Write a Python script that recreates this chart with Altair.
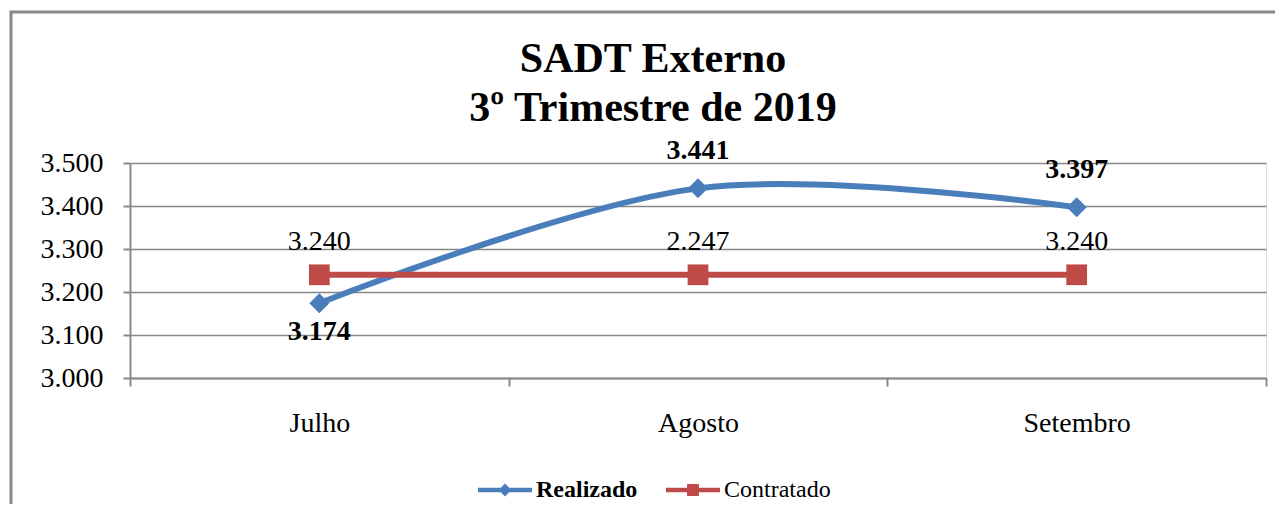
import altair as alt
import pandas as pd

meses = ["Julho", "Agosto", "Setembro"]
realizado = [3174, 3441, 3397]
contratado = [3240, 3240, 3240]
rotulos_realizado = ["3.174", "3.441", "3.397"]
rotulos_contratado = ["3.240", "2.247", "3.240"]
series = ["Realizado", "Contratado"]
cores = ["#4A7EBB", "#BE4B48"]
y_ticks = [3000, 3100, 3200, 3300, 3400, 3500]

rows = []
for m, v, r in zip(meses, realizado, rotulos_realizado):
    rows.append({"serie": "Realizado", "mes": m, "valor": v, "rotulo": r})
for m, v, r in zip(meses, contratado, rotulos_contratado):
    rows.append({"serie": "Contratado", "mes": m, "valor": v, "rotulo": r})
df = pd.DataFrame(rows)

FONT = "Liberation Serif"
GRAY = "#888888"

x_enc = alt.X(
    "mes:N",
    sort=meses,
    scale=alt.Scale(type="band", paddingInner=0, paddingOuter=0),
    axis=alt.Axis(
        title=None, labelFont=FONT, labelFontSize=28, labelColor="black",
        labelPadding=23, tickBand="extent", tickSize=8, tickColor=GRAY,
        tickWidth=2, domainColor=GRAY, domainWidth=2, grid=False, labelAngle=0,
    ),
)
y_enc = alt.Y(
    "valor:Q",
    scale=alt.Scale(domain=[3000, 3500], nice=False, zero=False),
    axis=alt.Axis(
        title=None, values=y_ticks, labelFont=FONT, labelFontSize=28,
        labelColor="black", labelPadding=20, tickSize=7, tickColor=GRAY,
        tickWidth=2, domainColor=GRAY, domainWidth=2, gridColor=GRAY,
        gridWidth=1.5, labelExpr="replace(format(datum.value, ',.0f'), ',', '.')",
    ),
)

# legend symbols: line segment + marker (custom SVG paths, unit box -1..1)
diamond_path = "M-1,-0.08H1V0.08H-1Z M0,-0.24L0.24,0L0,0.24L-0.24,0Z"
square_path = "M-1,-0.08H1V0.08H-1Z M-0.22,-0.22H0.22V0.22H-0.22Z"

legend = alt.Legend(
    title=None, orient="none", legendX=348, legendY=300, direction="horizontal",
    labelFont=FONT, labelFontSize=24, labelColor="black", labelOffset=4,
    labelFontWeight=alt.ExprRef("datum.label == 'Realizado' ? 'bold' : 'normal'"),
    columnPadding=28, padding=0, symbolSize=2916, symbolStrokeWidth=0,
    symbolOpacity=1,
)

base = alt.Chart(df).encode(x=x_enc, y=y_enc)

border = alt.Chart(pd.DataFrame({"a": [0]})).mark_rect(
    fill="white", fillOpacity=0, stroke=GRAY, strokeWidth=3
).encode(x=alt.value(-119), x2=alt.value(1175), y=alt.value(-151), y2=alt.value(380))

# legend-only layer (no rows drawn; entries come from the explicit scale domain)
legend_layer = base.transform_filter("false").mark_point(filled=True, opacity=1).encode(
    color=alt.Color("serie:N", scale=alt.Scale(domain=series, range=cores), legend=legend),
    shape=alt.Shape("serie:N", scale=alt.Scale(domain=series, range=[diamond_path, square_path]), legend=legend),
)

line_real = base.transform_filter("datum.serie == 'Realizado'").mark_line(
    interpolate="cardinal", strokeWidth=6, color=cores[0]
)
line_cont = base.transform_filter("datum.serie == 'Contratado'").mark_line(
    strokeWidth=6, color=cores[1]
)
pts_real = base.transform_filter("datum.serie == 'Realizado'").mark_point(
    filled=True, size=400, opacity=1, shape="diamond", color=cores[0]
)
pts_cont = base.transform_filter("datum.serie == 'Contratado'").mark_point(
    filled=True, size=430, opacity=1, shape="square", color=cores[1]
)

lab_real_up = base.transform_filter(
    "datum.serie == 'Realizado' && datum.mes != 'Julho'"
).mark_text(font=FONT, fontSize=28, fontWeight="bold", color="black", dy=-37, baseline="middle").encode(text="rotulo:N")
lab_real_down = base.transform_filter(
    "datum.serie == 'Realizado' && datum.mes == 'Julho'"
).mark_text(font=FONT, fontSize=28, fontWeight="bold", color="black", dy=29, baseline="middle").encode(text="rotulo:N")
lab_cont = base.transform_filter("datum.serie == 'Contratado'").mark_text(
    font=FONT, fontSize=28, color="black", dy=-33, baseline="middle"
).encode(text="rotulo:N")

chart = alt.layer(
    border, legend_layer, line_real, line_cont, pts_real, pts_cont,
    lab_real_up, lab_real_down, lab_cont
).properties(
    width=1136,
    height=215,
    autosize=alt.AutoSizeParams(type="none"),
    padding={"left": 122, "top": 155, "right": 9, "bottom": 126},
    title=alt.TitleParams(
        ["SADT Externo", "3º Trimestre de 2019"], font=FONT, fontSize=42,
        fontWeight="bold", color="black", lineHeight=49, anchor="middle",
        baseline="top", offset=0, dx=-45, dy=119,
    ),
).configure_view(strokeWidth=0).configure(background="white")

chart.save("out.html", embed_options={"renderer": "svg", "actions": False})
